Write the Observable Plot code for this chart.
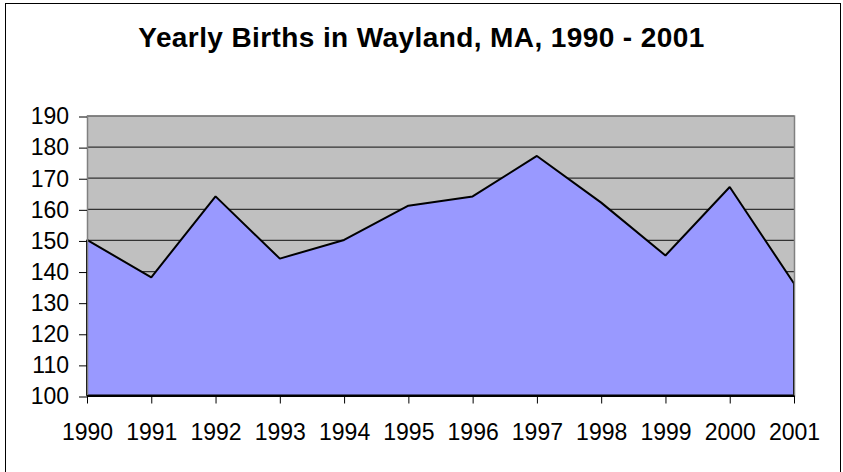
<!DOCTYPE html>
<html>
<head>
<meta charset="utf-8">
<script src="https://cdn.jsdelivr.net/npm/d3@7"></script>
<script src="https://cdn.jsdelivr.net/npm/@observablehq/plot@0.6"></script>
<style>
  html, body { margin: 0; padding: 0; background: #fff; }
  #wrap { position: relative; width: 843px; height: 472px; overflow: hidden;
          font-family: "Liberation Sans", Arial, sans-serif; }
  #border { position: absolute; left: 5px; top: 3px; width: 834px; height: 480px;
            border: 1.5px solid #000; }
  #title { position: absolute; left: 0; top: 22px; width: 843px; text-align: center;
           font-weight: bold; font-size: 28px; line-height: 32px; color: #000;
           letter-spacing: 0.4px; white-space: nowrap; }
  #chart { position: absolute; left: 0; top: 0; }
</style>
</head>
<body>
<div id="wrap">
  <div id="border"></div>
  <div id="chart"></div>
  <div id="title">Yearly Births in Wayland, MA, 1990 - 2001</div>
</div>
<script>
const years = [1990, 1991, 1992, 1993, 1994, 1995, 1996, 1997, 1998, 1999, 2000, 2001];
const births = [150, 138, 164, 144, 150, 161, 164, 177, 162, 145, 167, 136];
const yTicks = [100, 110, 120, 130, 140, 150, 160, 170, 180, 190];
const yBase = 100;

const data = years.map((year, i) => ({year, births: births[i]}));

const chart = Plot.plot({
  width: 843,
  height: 472,
  marginLeft: 87,
  marginRight: 49,
  marginTop: 115.5,
  marginBottom: 76.5,
  style: {
    fontSize: "23px",
    fontFamily: "'Liberation Sans', Arial, sans-serif",
    background: "transparent",
    color: "#000"
  },
  x: {domain: [years[0], years[years.length - 1]]},
  y: {domain: [yTicks[0], yTicks[yTicks.length - 1]]},
  marks: [
    Plot.frame({fill: "#c0c0c0", stroke: null}),
    Plot.gridY(yTicks, {stroke: "#333", strokeOpacity: 1, strokeWidth: 1.2}),
    Plot.areaY(data, {x: "year", y1: yBase, y2: "births", fill: "#9999ff",
                      stroke: "#000", strokeWidth: 2, strokeLinejoin: "miter"}),
    Plot.frame({stroke: "#808080", strokeWidth: 1.5, fill: null}),
    Plot.ruleY([yBase], {stroke: "#000", strokeWidth: 2}),
    Plot.axisX(years, {tickSize: 8, tickPadding: 19.5, tickFormat: d => String(d),
                       label: null, stroke: "#000"}),
    Plot.axisY(yTicks, {tickSize: 8, tickPadding: 10.5, dy: 1, label: null, stroke: "#000"})
  ]
});
document.getElementById("chart").appendChild(chart);
</script>
</body>
</html>
